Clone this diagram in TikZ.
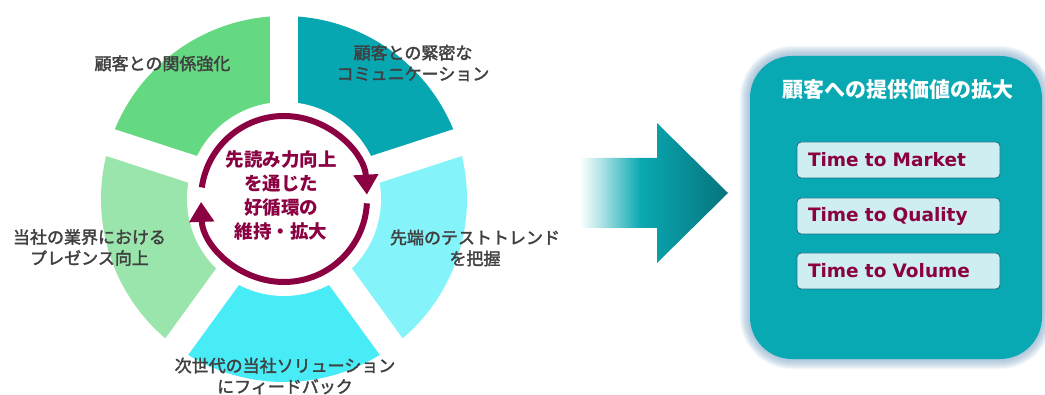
\documentclass[tikz,border=0pt]{standalone}
\usepackage{fontspec}
\usetikzlibrary{arrows.meta,calc}
\newfontfamily\jp{Noto Sans CJK JP}
\newfontfamily\jpm{Noto Sans CJK JP}[FakeBold=2]
\newfontfamily\dvs{DejaVu Sans}
\definecolor{cTeal}{HTML}{07A7B2}
\definecolor{cDkTeal}{HTML}{06747C}
\definecolor{cLtCyan}{HTML}{84F4FA}
\definecolor{cCyan}{HTML}{47ECF7}
\definecolor{cLtGreen}{HTML}{9AE5AB}
\definecolor{cGreen}{HTML}{65D882}
\definecolor{cBox}{HTML}{08A9B3}
\definecolor{cBoxLight}{HTML}{CFEEF1}
\definecolor{cBoxBorder}{HTML}{1F6E85}
\definecolor{cMaroon}{HTML}{8A0041}
\definecolor{cGray}{HTML}{404040}
\definecolor{cGlow}{HTML}{7FA6C6}
\definecolor{cFadeA}{HTML}{B3E4E7}
\definecolor{cFadeB}{HTML}{5CC5CB}
\definecolor{cFadeC}{HTML}{0AA8B2}
\pgfdeclarehorizontalshading{arrowfade}{100bp}{color(0bp)=(white); color(28bp)=(white); color(34.5bp)=(cFadeA); color(41bp)=(cFadeB); color(47.5bp)=(cFadeC); color(75bp)=(cDkTeal); color(100bp)=(cDkTeal)}
\begin{document}
\begin{tikzpicture}[x=1pt,y=1pt,
  lbl/.style={text=cGray,font=\jpm\fontsize{17}{21}\selectfont,align=center,inner sep=0pt},
  tbox/.style={fill=cBoxLight,draw=cBoxBorder,line width=0.9pt,rounded corners=4pt,
    minimum width=203pt,minimum height=36pt,inner xsep=11pt,text width=181pt,align=left,
    text=cMaroon,font=\dvs\bfseries\fontsize{18.5}{22}\selectfont},
  loop/.style={cMaroon,line width=6pt,-{Triangle[width=24pt,length=20pt]}}]
\useasboundingbox (0,0) rectangle (1045,394);
\coordinate (C) at (284,195);
% ring sectors
\fill[cTeal] (C) -- ++(90:183) arc[start angle=90,end angle=18,radius=183] -- cycle;
\fill[cLtCyan] (C) -- ++(18:183) arc[start angle=18,end angle=-54,radius=183] -- cycle;
\fill[cCyan] (C) -- ++(-54:183) arc[start angle=-54,end angle=-126,radius=183] -- cycle;
\fill[cLtGreen] (C) -- ++(-126:183) arc[start angle=-126,end angle=-198,radius=183] -- cycle;
\fill[cGreen] (C) -- ++(162:183) arc[start angle=162,end angle=90,radius=183] -- cycle;
\foreach \a in {90,18,-54,-126,162} \draw[white,line width=28pt] (C) -- ++(\a:192);
\fill[white] (C) circle[radius=97];
% cycle arrows
\draw[loop] ($(C)+(172:83)$) arc[start angle=172,end angle=3,radius=83];
\draw[loop] ($(C)+(-3:83)$) arc[start angle=-3,end angle=-178,radius=83];
\node[text=cMaroon,font=\jp\bfseries\fontsize{18.5}{23.7}\selectfont,align=center,inner sep=0pt] (ctr) at (281,198.5) {先読み力向上\\を通じた\\好循環の\\維持・拡大};
% labels
\node[lbl] (l1) at (162.5,330.5) {顧客との関係強化};
\node[lbl] (l2) at (413,331) {顧客との緊密な\\コミュニケーション};
\node[lbl] (l3) at (475,146) {先端のテストトレンド\\を把握};
\node[lbl] (l4) at (89.5,146.5) {当社の業界における\\プレゼンス向上};
\node[lbl] (l5) at (285,18) {次世代の当社ソリューション\\にフィードバック};
% big arrow
\shade[shading=arrowfade]
  (570,236) -- (657,236) -- (657,271) -- (728,201) -- (657,131) -- (657,166) -- (570,166) -- cycle;
% value box with glow
\foreach \i in {1,...,10}
  \draw[cGlow,line width=\i*2pt,opacity=0.09,rounded corners=42pt] (750,35) rectangle (1042,338);
\node[fill=cBox,rounded corners=42pt,minimum width=292pt,minimum height=303pt,inner sep=0pt] (box) at (896,186.5) {};
\node[text=white,font=\jp\bfseries\fontsize{21}{25}\selectfont,inner sep=0pt] (title) at (898,304) {顧客への提供価値の拡大};
\node[tbox] (t1) at (898.5,234) {Time to Market};
\node[tbox] (t2) at (898.5,178) {Time to Quality};
\node[tbox] (t3) at (898.5,123) {Time to Volume};
\end{tikzpicture}
\end{document}
